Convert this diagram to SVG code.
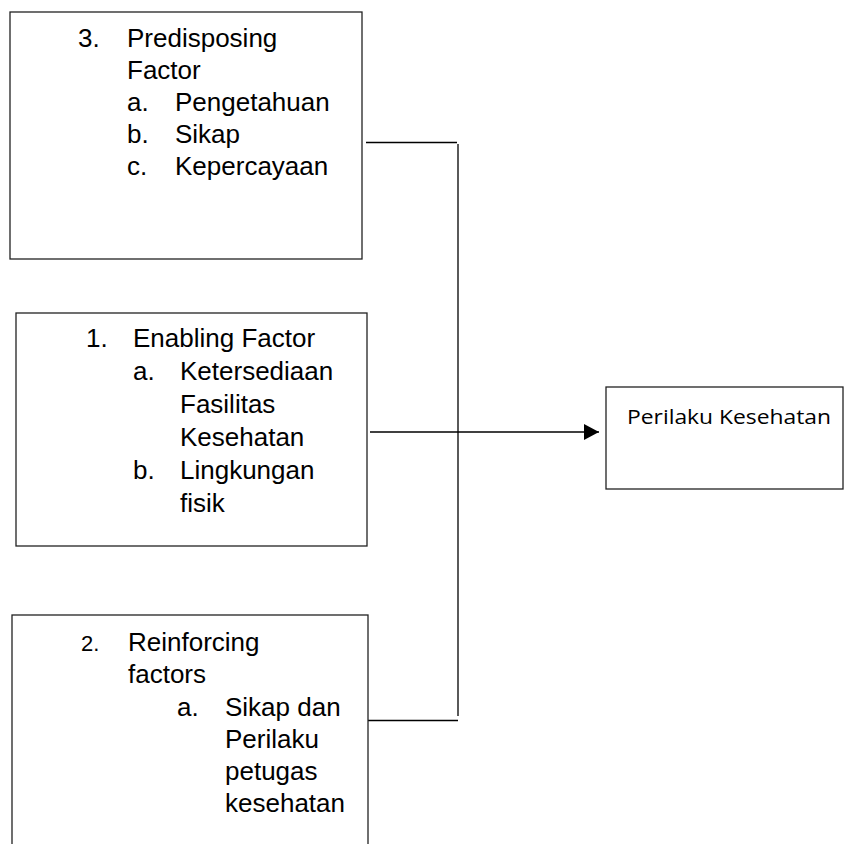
<svg xmlns="http://www.w3.org/2000/svg" width="844" height="844" viewBox="0 0 844 844">
<defs>
<style>
.box{fill:#fff;stroke:#222;stroke-width:1.3}
.t{font-family:"Liberation Sans",Arial,sans-serif;font-size:26px;fill:#000}
.s{font-family:"Liberation Sans",Arial,sans-serif;font-size:22px;fill:#000}
.c{font-family:"Open Sans","Noto Sans",sans-serif;font-size:20px;fill:#000}
.ln{stroke:#000;stroke-width:1.3;fill:none}
</style>
<marker id="arr" viewBox="0 0 10 10" refX="10" refY="5" markerWidth="15" markerHeight="16" markerUnits="userSpaceOnUse" orient="auto" preserveAspectRatio="none">
<path d="M0,0 L10,5 L0,10 Z" fill="#000"/>
</marker>
</defs>
<rect width="844" height="844" fill="#fff"/>
<g id="connectors">
<line class="ln" x1="366" y1="142.5" x2="457" y2="142.5"/>
<line class="ln" x1="458" y1="144" x2="458" y2="716"/>
<line class="ln" x1="368" y1="720.5" x2="458" y2="720.5"/>
<line class="ln" x1="370" y1="432" x2="599" y2="432" marker-end="url(#arr)"/>
</g>
<g id="predisposing">
<rect class="box" x="10" y="12" width="352" height="247"/>
<text class="t" x="78" y="47">3.</text>
<text class="t" x="127" y="47">Predisposing</text>
<text class="t" x="127" y="79">Factor</text>
<text class="t" x="127" y="111">a.</text>
<text class="t" x="175" y="111">Pengetahuan</text>
<text class="t" x="127" y="143">b.</text>
<text class="t" x="175" y="143">Sikap</text>
<text class="t" x="127" y="175">c.</text>
<text class="t" x="175" y="175">Kepercayaan</text>
</g>
<g id="enabling">
<rect class="box" x="16" y="313" width="351" height="233"/>
<text class="t" x="86" y="347">1.</text>
<text class="t" x="133" y="347">Enabling Factor</text>
<text class="t" x="133" y="380">a.</text>
<text class="t" x="180" y="380">Ketersediaan</text>
<text class="t" x="180" y="413">Fasilitas</text>
<text class="t" x="180" y="446">Kesehatan</text>
<text class="t" x="133" y="479">b.</text>
<text class="t" x="180" y="479">Lingkungan</text>
<text class="t" x="180" y="512">fisik</text>
</g>
<g id="reinforcing">
<rect class="box" x="12" y="615" width="356" height="240"/>
<text class="s" x="81" y="651">2.</text>
<text class="t" x="128" y="651">Reinforcing</text>
<text class="t" x="128" y="683">factors</text>
<text class="t" x="177" y="716">a.</text>
<text class="t" x="225" y="716">Sikap dan</text>
<text class="t" x="225" y="748">Perilaku</text>
<text class="t" x="225" y="780">petugas</text>
<text class="t" x="225" y="812">kesehatan</text>
</g>
<g id="perilaku">
<rect class="box" x="606" y="387" width="237" height="102"/>
<text class="c" x="627" y="424" textLength="204" lengthAdjust="spacingAndGlyphs">Perilaku Kesehatan</text>
</g>
</svg>
